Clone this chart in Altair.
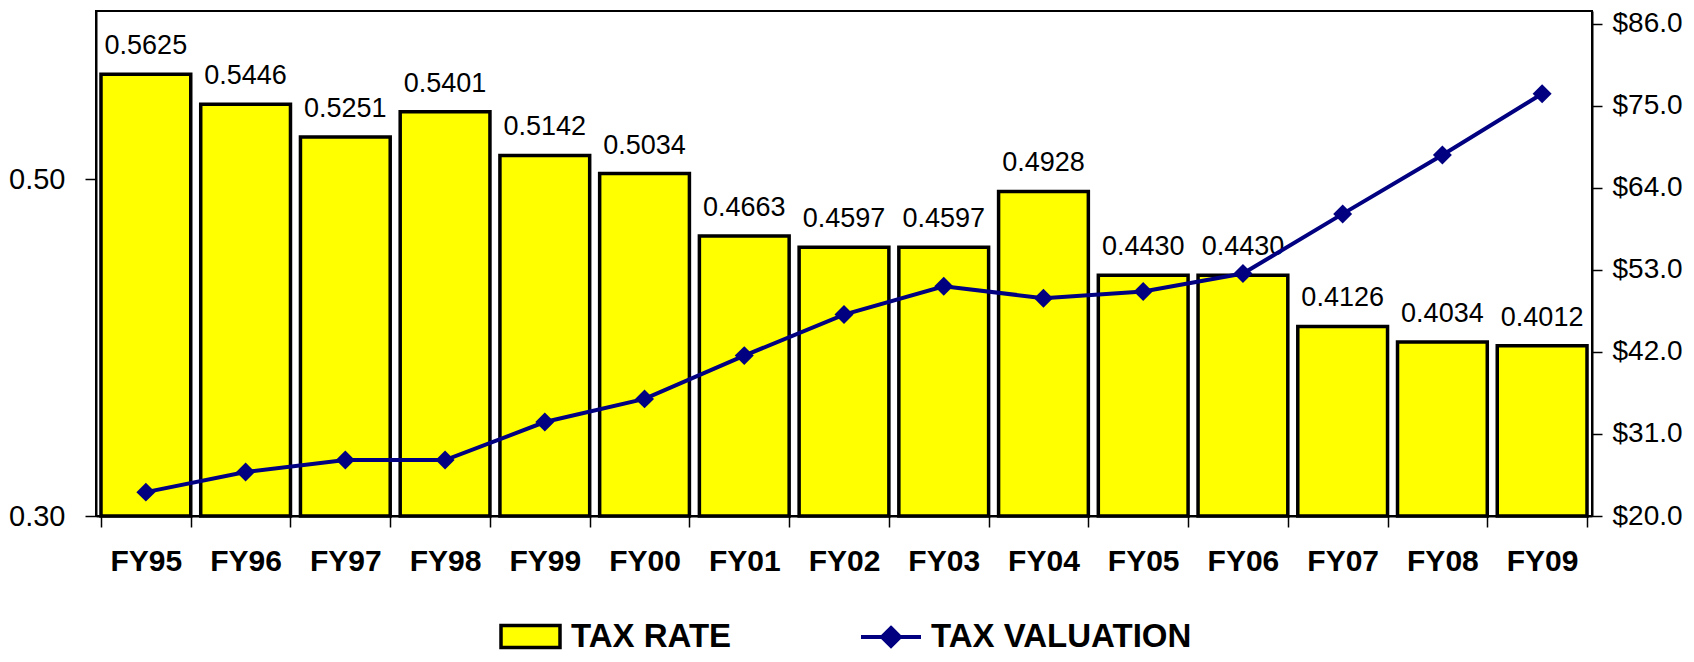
import altair as alt
import pandas as pd

years = ["FY95", "FY96", "FY97", "FY98", "FY99", "FY00", "FY01", "FY02",
         "FY03", "FY04", "FY05", "FY06", "FY07", "FY08", "FY09"]
tax_rate = [0.5625, 0.5446, 0.5251, 0.5401, 0.5142, 0.5034, 0.4663, 0.4597,
            0.4597, 0.4928, 0.4430, 0.4430, 0.4126, 0.4034, 0.4012]
tax_valuation = [23.2, 25.9, 27.5, 27.5, 32.6, 35.7, 41.5, 47.0,
                 50.8, 49.2, 50.1, 52.5, 60.5, 68.4, 76.6]
rate_ticks = [0.30, 0.50]
valuation_ticks = [20, 31, 42, 53, 64, 75, 86]
series = ["TAX RATE", "TAX VALUATION"]

df = pd.DataFrame({
    "year": years,
    "rate": tax_rate,
    "val": tax_valuation,
    "s1": series[0],
    "s2": series[1],
})

FONT = "Liberation Sans"
NAVY = "#000080"

x = alt.X(
    "year:N", sort=years,
    scale=alt.Scale(paddingInner=0.1, paddingOuter=0.05),
    axis=alt.Axis(title=None, labelAngle=0, labelFont=FONT, labelFontSize=30,
                  labelFontWeight="bold", labelColor="black", labelPadding=19,
                  tickBand="extent", tickSize=11, tickColor="black", tickWidth=1.5,
                  domainColor="black", domainWidth=2),
)

left_axis = alt.Axis(title=None, orient="left", values=rate_ticks, format=".2f",
                     grid=False, labels=True, labelFont=FONT, labelFontSize=29,
                     labelColor="black", labelPadding=20, tickSize=11,
                     tickColor="black", tickWidth=1.5, domainColor="black",
                     domainWidth=2)
rate_scale = alt.Scale(domain=[0.3, 0.6], zero=False, nice=False)

rect_path = "M-1,-0.37H1V0.37H-1Z"
line_path = "M-1,0H1M0,-0.3L0.3,0L0,0.3L-0.3,0Z"

bars = alt.Chart(df).mark_bar(stroke="black", strokeWidth=3.5).encode(
    x=x,
    y=alt.Y("rate:Q", scale=rate_scale, axis=left_axis),
    y2=alt.Y2(datum=0.3),
    fill=alt.Fill("s1:N",
                  scale=alt.Scale(domain=[series[0]], range=["#FFFF00"]),
                  legend=alt.Legend(title=None, orient="none", legendX=403, legendY=594,
                                    symbolType=rect_path, symbolSize=3481,
                                    symbolStrokeColor="black", symbolStrokeWidth=3.5,
                                    labelFont=FONT, labelFontSize=33,
                                    labelFontWeight="bold", labelColor="black",
                                    labelOffset=9, labelLimit=500, padding=0)),
)

labels = alt.Chart(df).mark_text(dy=-20, baseline="alphabetic", fontSize=27,
                                 font=FONT, color="black").encode(
    x=x,
    y=alt.Y("rate:Q", scale=rate_scale, axis=left_axis),
    text=alt.Text("rate:Q", format=".4f"),
)

line = alt.Chart(df).mark_line(strokeWidth=4).encode(
    x=x,
    y=alt.Y("val:Q",
            scale=alt.Scale(domain=[20, 87.7], zero=False, nice=False),
            axis=alt.Axis(title=None, orient="right", values=valuation_ticks,
                          format="$.1f", grid=False, labelFont=FONT, labelFontSize=28,
                          labelColor="black", labelPadding=10, tickSize=10,
                          tickColor="black", tickWidth=1.5, domainColor="black",
                          domainWidth=2)),
    stroke=alt.Stroke("s2:N",
                      scale=alt.Scale(domain=[series[1]], range=[NAVY]),
                      legend=alt.Legend(title=None, orient="none", legendX=763, legendY=594,
                                        symbolType=line_path, symbolSize=3600,
                                        symbolFillColor=NAVY, symbolStrokeWidth=4,
                                        labelFont=FONT, labelFontSize=33,
                                        labelFontWeight="bold", labelColor="black",
                                        labelOffset=8, labelLimit=500, padding=0)),
)

points = alt.Chart(df).mark_point(shape="diamond", filled=True, size=360,
                                  color=NAVY, opacity=1).encode(
    x=x,
    y=alt.Y("val:Q"),
)

chart = alt.layer(
    alt.layer(bars, labels),
    alt.layer(line, points),
).resolve_scale(y="independent").properties(
    width=1496, height=505,
    padding={"left": 88, "top": 3, "right": 94, "bottom": 138},
    autosize=alt.AutoSizeParams(type="none"),
    background="white",
).configure_view(stroke="black", strokeWidth=2)

chart.save("out.html", embed_options={"renderer": "svg", "actions": False})
